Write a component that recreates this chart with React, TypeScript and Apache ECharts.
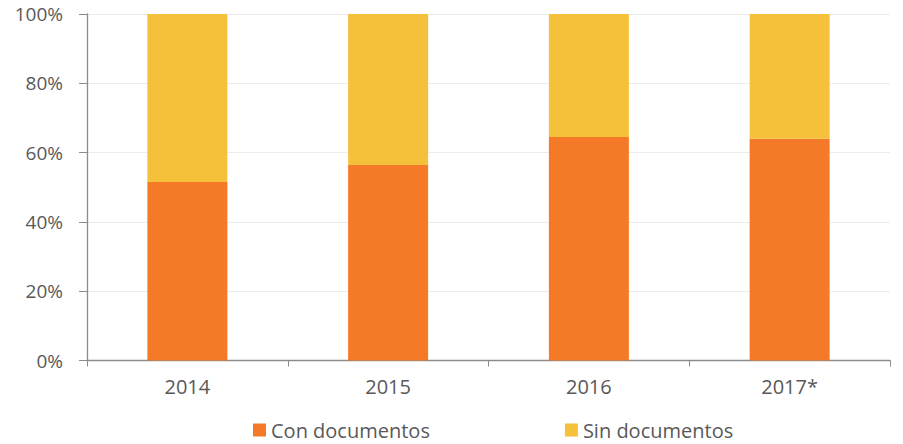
import React, { useEffect, useRef } from "react";
import * as echarts from "echarts";

const categories = ["2014", "2015", "2016", "2017*"];
const conDocumentos = [51.5, 56.4, 64.5, 64.0];
const sinDocumentos = conDocumentos.map((v) => +(100 - v).toFixed(1));
const yTicks = [0, 20, 40, 60, 80, 100];

export default function App() {
  const ref = useRef<HTMLDivElement>(null);
  useEffect(() => {
    if (!ref.current) return;
    const chart = echarts.init(ref.current, undefined, { renderer: "svg" });
    const font = "'Open Sans', sans-serif";
    chart.setOption({
      animation: false,
      grid: { left: 87, right: 13, top: 14, bottom: 83.5, containLabel: false },
      legend: {
        left: 248,
        top: 415,
        itemWidth: 13,
        itemHeight: 13,
        itemGap: 135,
        icon: "rect",
        textStyle: { fontFamily: font, fontSize: 20, color: "#595959" },
        data: ["Con documentos", "Sin documentos"],
      },
      xAxis: {
        type: "category",
        data: categories,
        boundaryGap: true,
        axisLine: { show: true, lineStyle: { color: "#8c8c8c", width: 1.3 } },
        axisTick: { show: true, length: 6, alignWithLabel: false, lineStyle: { color: "#8c8c8c" } },
        axisLabel: { fontFamily: font, fontSize: 20, color: "#595959", margin: 16 },
      },
      yAxis: {
        type: "value",
        min: yTicks[0],
        max: yTicks[yTicks.length - 1],
        interval: 20,
        axisLine: { show: true, lineStyle: { color: "#8c8c8c", width: 1.3 } },
        axisTick: { show: true, length: 8, lineStyle: { color: "#8c8c8c" } },
        axisLabel: { fontFamily: font, fontSize: 19, color: "#595959", margin: 24, formatter: "{value}%" },
        splitLine: { show: true, lineStyle: { color: "#ececec", width: 1 } },
      },
      series: [
        {
          name: "Con documentos",
          type: "bar",
          stack: "total",
          data: conDocumentos,
          barWidth: 80,
          itemStyle: { color: "#F47A28" },
        },
        {
          name: "Sin documentos",
          type: "bar",
          stack: "total",
          data: sinDocumentos,
          barWidth: 80,
          itemStyle: { color: "#F5C13B" },
        },
      ],
    });
    return () => chart.dispose();
  }, []);
  return <div ref={ref} style={{ width: 903, height: 444, position: "absolute", left: 0, top: 0 }} />;
}
